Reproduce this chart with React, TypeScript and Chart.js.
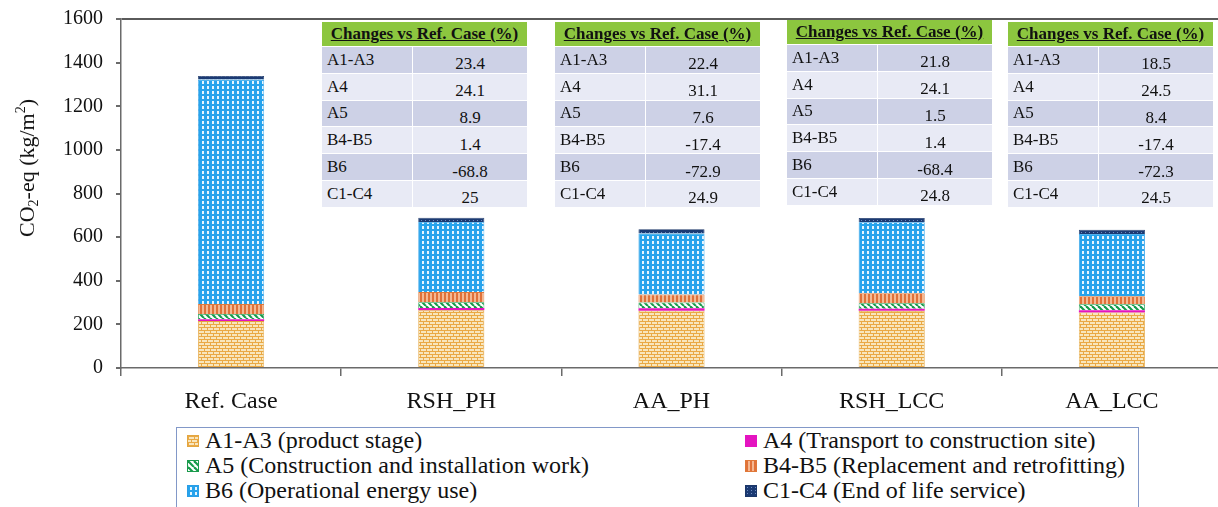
import React, { useEffect, useRef, useState } from 'react';
import { Chart, registerables } from 'chart.js';

Chart.register(...registerables);

// ---------- data ----------
const categories = ['Ref. Case', 'RSH_PH', 'AA_PH', 'RSH_LCC', 'AA_LCC'];
const a1a3 = [215, 265, 263, 262, 255];
const a4 = [8, 10, 10.5, 10, 10];
const a5 = [25, 27, 27, 25, 27];
const b4b5 = [45, 46, 37, 46, 37];
const b6 = [1030, 321, 279, 325, 285];
const c1c4 = [16, 20, 20, 20, 20];

const seriesLabels = [
  'A1-A3 (product stage)',
  'A4 (Transport to construction site)',
  'A5 (Construction and installation work)',
  'B4-B5 (Replacement and retrofitting)',
  'B6 (Operational energy use)',
  'C1-C4 (End of life service)',
];

const tableTitle = 'Changes vs Ref. Case (%)';
const tableRows = ['A1-A3', 'A4', 'A5', 'B4-B5', 'B6', 'C1-C4'];
const changesRSH_PH = ['23.4', '24.1', '8.9', '1.4', '-68.8', '25'];
const changesAA_PH = ['22.4', '31.1', '7.6', '-17.4', '-72.9', '24.9'];
const changesRSH_LCC = ['21.8', '24.1', '1.5', '1.4', '-68.4', '24.8'];
const changesAA_LCC = ['18.5', '24.5', '8.4', '-17.4', '-72.3', '24.5'];

// ---------- layout / style ----------
const SERIF = "'Liberation Serif', 'Times New Roman', 'DejaVu Serif', serif";
const tableBoxes = [
  { left: 322, top: 22, values: changesRSH_PH },
  { left: 555, top: 22, values: changesAA_PH },
  { left: 787, top: 20, values: changesRSH_LCC },
  { left: 1008, top: 22, values: changesAA_LCC },
];

type TileKind = 'brick' | 'magenta' | 'diag' | 'vstripe' | 'blue' | 'navy';
const tileKinds: TileKind[] = ['brick', 'magenta', 'diag', 'vstripe', 'blue', 'navy'];
const borderColors = ['#e3a640', '#e414c0', '#1a9a4c', '#e07838', '#2a9ee6', '#1b3668'];

function makeTile(kind: TileKind): HTMLCanvasElement {
  const c = document.createElement('canvas');
  const g = c.getContext('2d')!;
  if (kind === 'brick') {
    c.width = 6; c.height = 6;
    g.fillStyle = '#f8e6bd'; g.fillRect(0, 0, 6, 6);
    g.fillStyle = '#eaa945';
    g.fillRect(0, 0, 6, 1); g.fillRect(0, 3, 6, 1);
    g.fillRect(0, 0, 1, 3); g.fillRect(3, 3, 1, 3);
  } else if (kind === 'magenta') {
    c.width = 2; c.height = 2;
    g.fillStyle = '#e414c0'; g.fillRect(0, 0, 2, 2);
  } else if (kind === 'diag') {
    c.width = 6; c.height = 6;
    g.fillStyle = '#ffffff'; g.fillRect(0, 0, 6, 6);
    g.strokeStyle = '#169a4a'; g.lineWidth = 2.2;
    for (const o of [-6, 0, 6]) {
      g.beginPath(); g.moveTo(o, 0); g.lineTo(o + 6, 6); g.stroke();
    }
  } else if (kind === 'vstripe') {
    c.width = 4; c.height = 4;
    g.fillStyle = '#f5b892'; g.fillRect(0, 0, 4, 4);
    g.fillStyle = '#e0723a'; g.fillRect(0, 0, 2, 4);
  } else if (kind === 'blue') {
    c.width = 5; c.height = 5;
    g.fillStyle = '#27a3ec'; g.fillRect(0, 0, 5, 5);
    g.fillStyle = '#e6f5ff'; g.fillRect(2, 1, 2, 3);
  } else {
    c.width = 4; c.height = 3;
    g.fillStyle = '#1b3a73'; g.fillRect(0, 0, 4, 3);
    g.fillStyle = '#6f8cc0'; g.fillRect(1, 1, 1, 1);
  }
  return c;
}

export default function App() {
  const canvasRef = useRef<HTMLCanvasElement | null>(null);
  const [swatches, setSwatches] = useState<string[]>([]);

  useEffect(() => {
    const canvas = canvasRef.current;
    if (!canvas) return;
    const ctx = canvas.getContext('2d')!;
    const tiles = tileKinds.map(makeTile);
    setSwatches(tiles.map((t) => t.toDataURL()));
    const patterns = tiles.map((t) => ctx.createPattern(t, 'repeat')!);
    const series = [a1a3, a4, a5, b4b5, b6, c1c4];

    const chart = new Chart(canvas, {
      type: 'bar',
      data: {
        labels: categories,
        datasets: series.map((d, i) => ({
          label: seriesLabels[i],
          data: d,
          backgroundColor: patterns[i],
          borderColor: borderColors[i],
          borderWidth: i === 1 ? 0 : 0.8,
          categoryPercentage: 1,
          barPercentage: 0.3,
        })),
      },
      options: {
        responsive: false,
        animation: false,
        devicePixelRatio: 1,
        layout: { padding: { top: 19, left: 0, right: 0, bottom: 0 } },
        plugins: { legend: { display: false }, tooltip: { enabled: false }, title: { display: false } },
        scales: {
          x: {
            stacked: true,
            grid: { display: true, offset: true, color: 'rgba(0,0,0,0)', tickColor: '#6a6a6a', tickLength: 8, lineWidth: 1.5 },
            border: { display: true, color: '#6a6a6a', width: 1.5 },
            ticks: { color: '#111', font: { family: SERIF, size: 24 }, padding: 11, maxRotation: 0 },
            afterFit: (s: any) => { s.height = 52; },
          },
          y: {
            stacked: true,
            min: 0,
            max: 1600,
            grid: {
              display: true,
              color: (c: any) => (c.tick && c.tick.value === 1600 ? '#5a5a5a' : 'rgba(0,0,0,0)'),
              lineWidth: 2,
              tickColor: '#6a6a6a',
              tickLength: 5,
            },
            border: { display: true, color: '#6a6a6a', width: 1.5 },
            ticks: {
              stepSize: 200,
              color: '#111',
              font: { family: SERIF, size: 20 },
              padding: 13,
              callback: (v: any) => String(v),
            },
            afterFit: (s: any) => { s.width = 121; s.paddingTop = 0; s.paddingBottom = 0; },
          },
        },
      },
    });
    return () => chart.destroy();
  }, []);

  const rowH = 26.8;
  return (
    <div style={{ position: 'fixed', left: 0, top: 0, width: 1218, height: 507, overflow: 'hidden', background: '#fff', fontFamily: SERIF, color: '#111' }}>
      <canvas ref={canvasRef} width={1222} height={420} style={{ position: 'absolute', left: 0, top: 0, width: 1222, height: 420 }} />

      <div style={{ position: 'absolute', left: 27, top: 168, transform: 'translate(-50%, -50%) rotate(-90deg)', whiteSpace: 'nowrap', fontSize: 22, lineHeight: '24px' }}>
        CO<sub style={{ fontSize: 14, verticalAlign: '-4px', lineHeight: 0 }}>2</sub>-eq (kg/m<sup style={{ fontSize: 14, verticalAlign: '9px', lineHeight: 0 }}>2</sup>)
      </div>

      {tableBoxes.map((t, ti) => (
        <div key={ti} style={{ position: 'absolute', left: t.left, top: t.top, width: 205 }}>
          <div style={{ height: 25, background: '#8cc63f', display: 'flex', alignItems: 'center', justifyContent: 'center', fontWeight: 'bold', fontSize: 17, textDecoration: 'underline', borderBottom: '1px solid #fff', boxSizing: 'border-box' }}>
            {tableTitle}
          </div>
          {tableRows.map((r, ri) => (
            <div key={ri} style={{ display: 'flex', height: rowH, background: ri % 2 === 0 ? '#cdd1e6' : '#e8eaf5', borderBottom: '1px solid #fff', boxSizing: 'border-box', fontSize: 17 }}>
              <div style={{ width: 91, paddingLeft: 5, boxSizing: 'border-box', display: 'flex', alignItems: 'center', borderRight: '1.5px solid #fff' }}>{r}</div>
              <div style={{ flex: 1, display: 'flex', alignItems: 'center', justifyContent: 'center', paddingTop: 9, boxSizing: 'border-box' }}>{t.values[ri]}</div>
            </div>
          ))}
        </div>
      ))}

      <div style={{ position: 'absolute', left: 176, top: 427, width: 963, height: 110, border: '1.5px solid #8298c8', boxSizing: 'border-box', fontSize: 24 }}>
        {seriesLabels.map((lab, i) => {
          const col = i % 2;
          const row = Math.floor(i / 2);
          return (
            <div key={i} style={{ position: 'absolute', left: col === 0 ? 10 : 568, top: row * 25, height: 25, lineHeight: '25px', whiteSpace: 'nowrap', display: 'flex', alignItems: 'center' }}>
              <span style={{ display: 'inline-block', width: 12, height: 12, marginRight: 6, backgroundImage: swatches[i] ? `url(${swatches[i]})` : undefined, border: `1px solid ${borderColors[i]}`, boxSizing: 'border-box' }} />
              <span>{lab}</span>
            </div>
          );
        })}
      </div>
    </div>
  );
}
